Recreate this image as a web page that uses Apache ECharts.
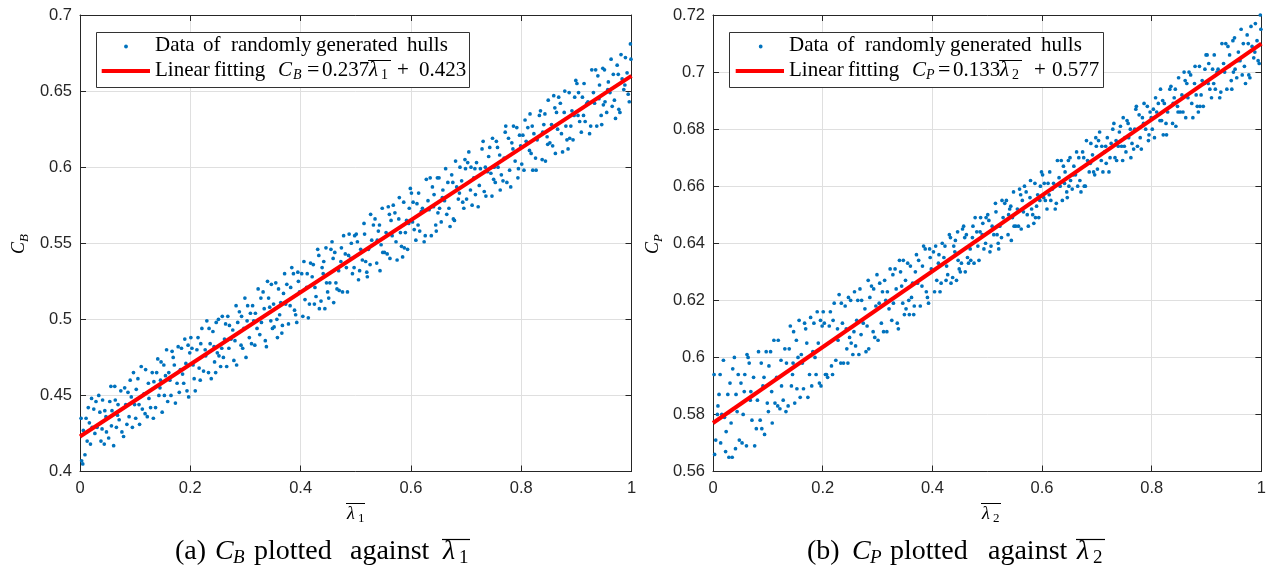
<!DOCTYPE html>
<html><head><meta charset="utf-8">
<script src="https://cdn.jsdelivr.net/npm/echarts@6/dist/echarts.min.js"></script>
<style>html,body{margin:0;padding:0;background:#fff}#c{width:1269px;height:567px}</style>
</head><body><div id="c"></div>
<script>
// ---------------- data ----------------
const xTickRange = [0, 1, 0.2];
const yTickRangeA = [0.4, 0.7, 0.05];
const yTickRangeB = [0.56, 0.72, 0.02];
const seriesNameData = 'Data of randomly generated hulls';

// panel (a): lambda1 vs C_B
const pointsA = [
[0.003,0.407],[0.011,0.435],[0.027,0.425],[0.041,0.447],[0.006,0.427],[0.019,0.418],[0.034,0.450],[0.048,0.426],[0.015,0.442],[0.022,0.429],[0.009,0.411],[0.038,0.420],[0.045,0.440],[0.031,0.429],[0.002,0.435],[0.025,0.441],[0.013,0.420],[0.044,0.418],[0.017,0.432],[0.036,0.439],[0.029,0.446],[0.047,0.436],[0.005,0.405],[0.040,0.428],[0.021,0.448],
[0.052,0.422],[0.087,0.452],[0.063,0.456],[0.071,0.434],[0.095,0.429],[0.058,0.440],[0.079,0.423],[0.066,0.429],[0.091,0.460],[0.054,0.446],[0.083,0.444],[0.099,0.444],[0.061,0.417],[0.074,0.453],[0.069,0.444],[0.085,0.431],[0.057,0.430],[0.093,0.449],[0.076,0.426],[0.064,0.447],[0.089,0.436],[0.097,0.465],[0.056,0.456],[0.081,0.455],[0.068,0.437],
[0.102,0.454],[0.137,0.442],[0.119,0.467],[0.146,0.460],[0.108,0.431],[0.125,0.448],[0.131,0.465],[0.113,0.441],[0.149,0.439],[0.105,0.461],[0.141,0.474],[0.122,0.436],[0.134,0.459],[0.116,0.451],[0.128,0.442],[0.143,0.450],[0.111,0.469],[0.139,0.465],[0.107,0.444],[0.147,0.472],[0.118,0.438],[0.133,0.435],[0.124,0.458],[0.145,0.455],[0.101,0.435],
[0.153,0.450],[0.178,0.482],[0.161,0.465],[0.194,0.453],[0.169,0.475],[0.186,0.464],[0.157,0.480],[0.173,0.445],[0.199,0.478],[0.165,0.450],[0.182,0.467],[0.152,0.470],[0.190,0.487],[0.176,0.458],[0.197,0.449],[0.159,0.446],[0.171,0.470],[0.184,0.481],[0.163,0.460],[0.188,0.458],[0.155,0.463],[0.192,0.471],[0.167,0.479],[0.180,0.452],[0.196,0.483],
[0.203,0.481],[0.238,0.461],[0.216,0.468],[0.247,0.498],[0.209,0.453],[0.227,0.480],[0.221,0.494],[0.244,0.472],[0.212,0.480],[0.233,0.465],[0.205,0.470],[0.241,0.492],[0.218,0.460],[0.230,0.499],[0.249,0.478],[0.214,0.488],[0.236,0.484],[0.224,0.466],[0.201,0.488],[0.246,0.465],[0.228,0.476],[0.219,0.484],[0.243,0.482],[0.207,0.461],[0.234,0.494],
[0.252,0.476],[0.289,0.505],[0.266,0.469],[0.277,0.493],[0.258,0.502],[0.295,0.481],[0.271,0.496],[0.284,0.470],[0.262,0.487],[0.299,0.514],[0.255,0.469],[0.281,0.486],[0.268,0.502],[0.292,0.483],[0.274,0.487],[0.286,0.498],[0.260,0.475],[0.297,0.494],[0.279,0.473],[0.264,0.497],[0.251,0.500],[0.283,0.509],[0.270,0.481],[0.293,0.502],[0.257,0.481],
[0.304,0.509],[0.336,0.486],[0.318,0.504],[0.347,0.523],[0.311,0.484],[0.329,0.498],[0.342,0.514],[0.323,0.520],[0.307,0.488],[0.349,0.494],[0.315,0.499],[0.332,0.518],[0.301,0.475],[0.326,0.490],[0.344,0.508],[0.338,0.482],[0.313,0.509],[0.321,0.494],[0.346,0.499],[0.309,0.504],[0.334,0.507],[0.317,0.483],[0.340,0.525],[0.303,0.499],[0.328,0.514],
[0.352,0.495],[0.387,0.530],[0.364,0.511],[0.393,0.498],[0.371,0.530],[0.358,0.488],[0.381,0.509],[0.396,0.525],[0.367,0.496],[0.375,0.523],[0.355,0.524],[0.389,0.506],[0.362,0.503],[0.398,0.518],[0.378,0.497],[0.384,0.534],[0.369,0.517],[0.351,0.510],[0.391,0.503],[0.373,0.510],[0.360,0.520],[0.395,0.531],[0.366,0.491],[0.382,0.521],[0.357,0.500],
[0.402,0.530],[0.437,0.512],[0.414,0.501],[0.446,0.547],[0.421,0.528],[0.408,0.513],[0.431,0.546],[0.449,0.518],[0.418,0.537],[0.426,0.521],[0.404,0.502],[0.441,0.530],[0.434,0.507],[0.412,0.530],[0.447,0.524],[0.423,0.536],[0.416,0.510],[0.439,0.534],[0.428,0.515],[0.406,0.538],[0.444,0.507],[0.411,0.521],[0.433,0.542],[0.425,0.510],[0.442,0.538],
[0.453,0.524],[0.488,0.556],[0.462,0.544],[0.476,0.518],[0.457,0.551],[0.494,0.530],[0.469,0.532],[0.481,0.543],[0.451,0.514],[0.498,0.555],[0.466,0.520],[0.485,0.518],[0.473,0.538],[0.459,0.540],[0.491,0.540],[0.478,0.555],[0.464,0.524],[0.497,0.534],[0.455,0.546],[0.483,0.534],[0.470,0.519],[0.492,0.550],[0.460,0.511],[0.487,0.542],[0.474,0.547],
[0.503,0.551],[0.538,0.537],[0.515,0.563],[0.546,0.549],[0.521,0.528],[0.509,0.546],[0.532,0.562],[0.548,0.573],[0.518,0.538],[0.526,0.536],[0.505,0.526],[0.541,0.558],[0.529,0.552],[0.512,0.539],[0.544,0.532],[0.535,0.566],[0.501,0.556],[0.523,0.546],[0.549,0.544],[0.516,0.556],[0.507,0.532],[0.539,0.552],[0.527,0.569],[0.520,0.531],[0.543,0.562],
[0.552,0.544],[0.587,0.577],[0.566,0.555],[0.594,0.546],[0.559,0.574],[0.578,0.566],[0.583,0.548],[0.597,0.573],[0.562,0.540],[0.571,0.570],[0.555,0.557],[0.590,0.557],[0.575,0.539],[0.599,0.586],[0.568,0.575],[0.581,0.557],[0.557,0.543],[0.592,0.565],[0.564,0.565],[0.585,0.541],[0.573,0.551],[0.596,0.563],[0.561,0.569],[0.579,0.580],[0.588,0.547],
[0.604,0.577],[0.637,0.555],[0.613,0.562],[0.648,0.593],[0.621,0.573],[0.609,0.552],[0.642,0.582],[0.628,0.592],[0.616,0.558],[0.633,0.572],[0.601,0.583],[0.645,0.562],[0.624,0.551],[0.611,0.576],[0.639,0.587],[0.619,0.571],[0.606,0.559],[0.631,0.578],[0.649,0.570],[0.626,0.555],[0.614,0.583],[0.641,0.574],[0.635,0.593],[0.603,0.564],[0.646,0.558],
[0.652,0.573],[0.689,0.600],[0.663,0.599],[0.677,0.566],[0.658,0.585],[0.694,0.577],[0.671,0.561],[0.683,0.587],[0.655,0.564],[0.698,0.605],[0.667,0.590],[0.686,0.579],[0.674,0.595],[0.661,0.578],[0.692,0.591],[0.679,0.565],[0.651,0.593],[0.696,0.573],[0.669,0.573],[0.681,0.604],[0.657,0.580],[0.688,0.583],[0.665,0.569],[0.676,0.590],[0.699,0.599],
[0.703,0.603],[0.736,0.581],[0.714,0.593],[0.748,0.619],[0.722,0.574],[0.708,0.585],[0.741,0.607],[0.729,0.612],[0.717,0.582],[0.745,0.596],[0.705,0.610],[0.733,0.584],[0.719,0.603],[0.750,0.592],[0.726,0.599],[0.711,0.575],[0.739,0.597],[0.701,0.579],[0.743,0.613],[0.724,0.588],[0.716,0.599],[0.731,0.617],[0.747,0.581],[0.709,0.600],[0.735,0.600],
[0.753,0.590],[0.786,0.627],[0.761,0.608],[0.794,0.593],[0.772,0.627],[0.758,0.600],[0.781,0.587],[0.797,0.621],[0.767,0.591],[0.777,0.619],[0.755,0.617],[0.789,0.604],[0.764,0.595],[0.799,0.614],[0.774,0.590],[0.783,0.616],[0.751,0.600],[0.792,0.626],[0.769,0.606],[0.779,0.598],[0.757,0.613],[0.795,0.599],[0.762,0.585],[0.785,0.612],[0.771,0.623],
[0.803,0.621],[0.838,0.605],[0.816,0.635],[0.847,0.620],[0.821,0.598],[0.809,0.617],[0.833,0.634],[0.849,0.644],[0.818,0.609],[0.826,0.606],[0.805,0.598],[0.841,0.628],[0.829,0.618],[0.812,0.626],[0.844,0.604],[0.835,0.637],[0.801,0.602],[0.823,0.622],[0.848,0.615],[0.815,0.611],[0.807,0.631],[0.839,0.623],[0.827,0.598],[0.820,0.627],[0.843,0.635],
[0.852,0.616],[0.887,0.649],[0.866,0.625],[0.894,0.618],[0.859,0.647],[0.878,0.636],[0.883,0.618],[0.897,0.646],[0.862,0.609],[0.871,0.642],[0.855,0.628],[0.890,0.627],[0.875,0.610],[0.899,0.657],[0.868,0.646],[0.881,0.627],[0.857,0.614],[0.892,0.637],[0.864,0.636],[0.885,0.612],[0.873,0.622],[0.896,0.634],[0.861,0.639],[0.879,0.650],[0.888,0.619],
[0.904,0.649],[0.937,0.627],[0.913,0.634],[0.948,0.665],[0.921,0.643],[0.909,0.623],[0.942,0.654],[0.928,0.664],[0.916,0.630],[0.933,0.642],[0.901,0.655],[0.945,0.634],[0.924,0.622],[0.911,0.646],[0.939,0.660],[0.919,0.642],[0.906,0.630],[0.931,0.649],[0.949,0.641],[0.926,0.627],[0.914,0.655],[0.941,0.645],[0.935,0.664],[0.903,0.634],[0.946,0.628],
[0.952,0.643],[0.989,0.672],[0.963,0.671],[0.977,0.638],[0.958,0.656],[0.994,0.648],[0.971,0.632],[0.983,0.658],[0.955,0.636],[0.998,0.681],[0.967,0.661],[0.986,0.651],[0.974,0.667],[0.961,0.649],[0.992,0.662],[0.979,0.636],[0.951,0.664],[0.996,0.643],[0.969,0.644],[0.981,0.674],[0.957,0.651],[0.988,0.654],[0.965,0.640],[0.976,0.661],[0.999,0.671]
];
const fitA = [[0, 0.423], [1, 0.660]];

// panel (b): lambda2 vs C_P
const pointsB = [
[0.002,0.594],[0.014,0.570],[0.027,0.587],[0.041,0.568],[0.008,0.580],[0.019,0.599],[0.033,0.577],[0.046,0.594],[0.005,0.571],[0.023,0.567],[0.036,0.596],[0.011,0.587],[0.029,0.565],[0.044,0.581],[0.016,0.580],[0.039,0.600],[0.024,0.574],[0.048,0.571],[0.003,0.566],[0.031,0.591],[0.013,0.594],[0.042,0.587],[0.021,0.579],[0.035,0.565],[0.009,0.583],
[0.053,0.570],[0.088,0.598],[0.062,0.601],[0.071,0.578],[0.094,0.573],[0.057,0.588],[0.079,0.575],[0.066,0.598],[0.091,0.590],[0.055,0.580],[0.083,0.602],[0.099,0.584],[0.061,0.569],[0.074,0.593],[0.068,0.585],[0.086,0.578],[0.058,0.594],[0.093,0.593],[0.076,0.569],[0.064,0.600],[0.089,0.575],[0.097,0.602],[0.051,0.591],[0.081,0.585],[0.069,0.588],
[0.102,0.597],[0.137,0.583],[0.119,0.606],[0.146,0.598],[0.108,0.577],[0.125,0.590],[0.131,0.603],[0.113,0.584],[0.149,0.584],[0.105,0.602],[0.141,0.611],[0.122,0.582],[0.134,0.598],[0.116,0.593],[0.128,0.585],[0.143,0.590],[0.111,0.606],[0.139,0.603],[0.107,0.588],[0.147,0.609],[0.118,0.583],[0.133,0.581],[0.124,0.599],[0.145,0.594],[0.101,0.581],
[0.153,0.589],[0.178,0.614],[0.161,0.601],[0.194,0.591],[0.169,0.610],[0.186,0.600],[0.157,0.613],[0.173,0.586],[0.199,0.611],[0.165,0.589],[0.182,0.602],[0.152,0.606],[0.190,0.616],[0.176,0.594],[0.197,0.590],[0.159,0.586],[0.171,0.605],[0.184,0.612],[0.163,0.598],[0.188,0.594],[0.155,0.600],[0.192,0.605],[0.167,0.612],[0.180,0.590],[0.196,0.613],
[0.203,0.612],[0.238,0.598],[0.216,0.597],[0.247,0.621],[0.209,0.593],[0.227,0.610],[0.221,0.619],[0.244,0.603],[0.212,0.611],[0.233,0.598],[0.205,0.594],[0.241,0.618],[0.218,0.594],[0.230,0.622],[0.249,0.607],[0.214,0.616],[0.236,0.612],[0.224,0.599],[0.201,0.616],[0.246,0.598],[0.228,0.606],[0.219,0.613],[0.243,0.610],[0.207,0.594],[0.234,0.619],
[0.252,0.605],[0.289,0.625],[0.266,0.601],[0.277,0.617],[0.258,0.623],[0.295,0.607],[0.271,0.620],[0.284,0.603],[0.262,0.613],[0.299,0.629],[0.255,0.601],[0.281,0.611],[0.268,0.624],[0.292,0.609],[0.274,0.612],[0.286,0.621],[0.260,0.604],[0.297,0.618],[0.279,0.602],[0.264,0.620],[0.251,0.620],[0.283,0.627],[0.270,0.608],[0.293,0.624],[0.257,0.609],
[0.304,0.626],[0.336,0.612],[0.318,0.623],[0.347,0.634],[0.311,0.609],[0.329,0.619],[0.342,0.630],[0.323,0.631],[0.307,0.612],[0.349,0.615],[0.315,0.620],[0.332,0.631],[0.301,0.606],[0.326,0.613],[0.344,0.625],[0.338,0.610],[0.313,0.627],[0.321,0.617],[0.346,0.619],[0.309,0.623],[0.334,0.624],[0.317,0.609],[0.340,0.634],[0.303,0.619],[0.328,0.629],
[0.352,0.617],[0.387,0.638],[0.364,0.626],[0.393,0.619],[0.371,0.636],[0.358,0.615],[0.381,0.625],[0.396,0.635],[0.367,0.618],[0.375,0.634],[0.355,0.633],[0.389,0.623],[0.362,0.621],[0.398,0.631],[0.378,0.618],[0.384,0.639],[0.369,0.630],[0.351,0.627],[0.391,0.621],[0.373,0.626],[0.360,0.632],[0.395,0.638],[0.366,0.615],[0.382,0.632],[0.357,0.620],
[0.402,0.637],[0.437,0.628],[0.414,0.623],[0.446,0.644],[0.421,0.635],[0.408,0.627],[0.431,0.643],[0.449,0.631],[0.418,0.640],[0.426,0.632],[0.404,0.623],[0.441,0.637],[0.434,0.626],[0.412,0.636],[0.447,0.634],[0.423,0.639],[0.416,0.626],[0.439,0.639],[0.428,0.629],[0.406,0.639],[0.444,0.627],[0.411,0.633],[0.433,0.642],[0.425,0.627],[0.442,0.641],
[0.453,0.633],[0.488,0.649],[0.462,0.643],[0.476,0.633],[0.457,0.646],[0.494,0.638],[0.469,0.638],[0.481,0.644],[0.451,0.630],[0.498,0.649],[0.466,0.633],[0.485,0.634],[0.473,0.642],[0.459,0.642],[0.491,0.643],[0.478,0.649],[0.464,0.635],[0.497,0.640],[0.455,0.645],[0.483,0.639],[0.470,0.634],[0.492,0.647],[0.460,0.630],[0.487,0.644],[0.474,0.646],
[0.503,0.648],[0.538,0.643],[0.515,0.654],[0.546,0.649],[0.521,0.638],[0.509,0.646],[0.532,0.654],[0.548,0.658],[0.518,0.643],[0.526,0.642],[0.505,0.637],[0.541,0.652],[0.529,0.649],[0.512,0.643],[0.544,0.641],[0.535,0.655],[0.501,0.650],[0.523,0.646],[0.549,0.646],[0.516,0.651],[0.507,0.639],[0.539,0.650],[0.527,0.655],[0.520,0.640],[0.543,0.653],
[0.552,0.646],[0.587,0.661],[0.566,0.651],[0.594,0.649],[0.559,0.659],[0.578,0.656],[0.583,0.650],[0.597,0.660],[0.562,0.645],[0.571,0.658],[0.555,0.652],[0.590,0.653],[0.575,0.646],[0.599,0.665],[0.568,0.660],[0.581,0.652],[0.557,0.646],[0.592,0.657],[0.564,0.655],[0.585,0.647],[0.573,0.650],[0.596,0.655],[0.561,0.657],[0.579,0.662],[0.588,0.649],
[0.604,0.661],[0.637,0.655],[0.613,0.657],[0.648,0.669],[0.621,0.661],[0.609,0.652],[0.642,0.665],[0.628,0.669],[0.616,0.655],[0.633,0.660],[0.601,0.664],[0.645,0.658],[0.624,0.652],[0.611,0.661],[0.639,0.667],[0.619,0.659],[0.606,0.655],[0.631,0.663],[0.649,0.660],[0.626,0.654],[0.614,0.665],[0.641,0.661],[0.635,0.669],[0.603,0.656],[0.646,0.656],
[0.652,0.662],[0.689,0.675],[0.663,0.672],[0.677,0.660],[0.658,0.667],[0.694,0.665],[0.671,0.658],[0.683,0.669],[0.655,0.659],[0.698,0.677],[0.667,0.670],[0.686,0.665],[0.674,0.672],[0.661,0.664],[0.692,0.671],[0.679,0.660],[0.651,0.670],[0.696,0.664],[0.669,0.662],[0.681,0.676],[0.657,0.664],[0.688,0.668],[0.665,0.660],[0.676,0.670],[0.699,0.674],
[0.703,0.676],[0.736,0.669],[0.714,0.672],[0.748,0.684],[0.722,0.665],[0.708,0.669],[0.741,0.679],[0.729,0.680],[0.717,0.668],[0.745,0.674],[0.705,0.679],[0.733,0.670],[0.719,0.677],[0.750,0.674],[0.726,0.675],[0.711,0.665],[0.739,0.674],[0.701,0.666],[0.743,0.681],[0.724,0.670],[0.716,0.674],[0.731,0.682],[0.747,0.669],[0.709,0.674],[0.735,0.676],
[0.753,0.672],[0.786,0.689],[0.761,0.680],[0.794,0.676],[0.772,0.688],[0.758,0.677],[0.781,0.673],[0.797,0.686],[0.767,0.673],[0.777,0.685],[0.755,0.683],[0.789,0.680],[0.764,0.675],[0.799,0.684],[0.774,0.674],[0.783,0.684],[0.751,0.677],[0.792,0.688],[0.769,0.680],[0.779,0.677],[0.757,0.682],[0.795,0.678],[0.762,0.670],[0.785,0.682],[0.771,0.687],
[0.803,0.687],[0.838,0.682],[0.816,0.694],[0.847,0.688],[0.821,0.678],[0.809,0.686],[0.833,0.694],[0.849,0.698],[0.818,0.683],[0.826,0.682],[0.805,0.677],[0.841,0.691],[0.829,0.686],[0.812,0.689],[0.844,0.681],[0.835,0.695],[0.801,0.680],[0.823,0.689],[0.848,0.686],[0.815,0.683],[0.807,0.691],[0.839,0.689],[0.827,0.678],[0.820,0.690],[0.843,0.694],
[0.852,0.686],[0.887,0.702],[0.866,0.691],[0.894,0.688],[0.859,0.700],[0.878,0.696],[0.883,0.688],[0.897,0.701],[0.862,0.684],[0.871,0.699],[0.855,0.692],[0.890,0.692],[0.875,0.684],[0.899,0.706],[0.868,0.700],[0.881,0.692],[0.857,0.686],[0.892,0.697],[0.864,0.696],[0.885,0.686],[0.873,0.689],[0.896,0.696],[0.861,0.697],[0.879,0.702],[0.888,0.688],
[0.904,0.703],[0.937,0.694],[0.913,0.696],[0.948,0.711],[0.921,0.701],[0.909,0.691],[0.942,0.706],[0.928,0.710],[0.916,0.694],[0.933,0.700],[0.901,0.706],[0.945,0.697],[0.924,0.691],[0.911,0.701],[0.939,0.709],[0.919,0.700],[0.906,0.694],[0.931,0.703],[0.949,0.700],[0.926,0.693],[0.914,0.706],[0.941,0.702],[0.935,0.710],[0.903,0.696],[0.946,0.694],
[0.952,0.701],[0.989,0.717],[0.963,0.715],[0.977,0.699],[0.958,0.707],[0.994,0.704],[0.971,0.696],[0.983,0.709],[0.955,0.698],[0.998,0.720],[0.967,0.710],[0.986,0.705],[0.974,0.713],[0.961,0.704],[0.992,0.711],[0.979,0.698],[0.951,0.712],[0.996,0.703],[0.969,0.702],[0.981,0.716],[0.957,0.704],[0.988,0.707],[0.965,0.699],[0.976,0.710],[0.999,0.715]
];
const fitB = [[0, 0.577], [1, 0.710]];

// ---------------- styling ----------------
const SANS = '"Liberation Sans", Arial, Helvetica, sans-serif';
const SERIF = '"Liberation Serif", "Times New Roman", serif';
const AX = '#262626', GRIDC = '#dfdfdf', BLUE = '#0072BD', RED = '#ff0000';

const grids = [
  {left: 80, top: 15, width: 551.5, height: 456.5},
  {left: 713, top: 15, width: 552, height: 456.5}
];

function xAxes(gi) {
  const base = {type: 'value', gridIndex: gi, min: xTickRange[0], max: xTickRange[1], interval: xTickRange[2],
    axisLine: {show: true, onZero: false, lineStyle: {color: AX, width: 1}},
    axisTick: {show: true, inside: true, length: 6, lineStyle: {color: AX}}};
  return [
    Object.assign({}, base, {position: 'bottom',
      axisLabel: {show: true, margin: 8, color: AX, fontFamily: SANS, fontSize: 16.5, showMinLabel: true, showMaxLabel: true},
      splitLine: {show: true, lineStyle: {color: GRIDC, width: 1}}}),
    Object.assign({}, base, {position: 'top', axisLabel: {show: false}, splitLine: {show: false}})
  ];
}
function yAxes(gi, r) {
  const base = {type: 'value', gridIndex: gi, min: r[0], max: r[1], interval: r[2],
    axisLine: {show: true, onZero: false, lineStyle: {color: AX, width: 1}},
    axisTick: {show: true, inside: true, length: 6, lineStyle: {color: AX}}};
  return [
    Object.assign({}, base, {position: 'left',
      axisLabel: {show: true, margin: 8, color: AX, fontFamily: SANS, fontSize: 16.5, showMinLabel: true, showMaxLabel: true},
      splitLine: {show: true, lineStyle: {color: GRIDC, width: 1}}}),
    Object.assign({}, base, {position: 'right', axisLabel: {show: false}, splitLine: {show: false}})
  ];
}

function txt(x, y, s, size, italic, extra) {
  return Object.assign({type: 'text', x: x, y: y, z: 100, silent: true,
    style: {text: s, fontFamily: SERIF, fontSize: size, fontStyle: italic ? 'italic' : 'normal',
      fill: '#000', align: 'left', verticalAlign: 'middle'}}, extra || {});
}
function hline(x1, x2, y, w, color) {
  return {type: 'line', z: 100, silent: true, shape: {x1: x1, y1: y, x2: x2, y2: y},
    style: {stroke: color || '#000', lineWidth: w || 1}};
}

const g = [];
// ---- legend (a)
g.push({type: 'rect', z: 99, silent: true, shape: {x: 96.5, y: 32.5, width: 373, height: 55},
  style: {fill: '#fff', stroke: '#333', lineWidth: 1}});
g.push({type: 'circle', z: 100, silent: true, shape: {cx: 126, cy: 46.5, r: 1.9}, style: {fill: BLUE}});
[['Data',155],['of',203],['randomly',231],['generated',316],['hulls',407]].forEach(w => g.push(txt(w[1], 45, w[0], 21)));
g.push(hline(101.7, 150, 71, 4, RED));
g.push(txt(155, 70, 'Linear', 21));
g.push(txt(214, 70, 'fitting', 21));
g.push(txt(278, 70, 'C', 21, true));
g.push(txt(293, 75, 'B', 14, true));
g.push(txt(307, 70, '=', 22));
g.push(txt(322, 70, '0.237', 21));
g.push(txt(369, 70, 'λ', 21, true));
g.push(txt(381, 75, '1', 14));
g.push(hline(368, 391, 60.5, 1));
g.push(txt(397, 70, '+', 21));
g.push(txt(419, 70, '0.423', 21));

// ---- legend (b)
g.push({type: 'rect', z: 99, silent: true, shape: {x: 729.5, y: 32.5, width: 374, height: 55},
  style: {fill: '#fff', stroke: '#333', lineWidth: 1}});
g.push({type: 'circle', z: 100, silent: true, shape: {cx: 760.7, cy: 46.5, r: 1.9}, style: {fill: BLUE}});
[['Data',789],['of',837],['randomly',865],['generated',950],['hulls',1041]].forEach(w => g.push(txt(w[1], 45, w[0], 21)));
g.push(hline(735.7, 784, 71, 4, RED));
g.push(txt(789, 70, 'Linear', 21));
g.push(txt(848, 70, 'fitting', 21));
g.push(txt(912, 70, 'C', 21, true));
g.push(txt(926, 75, 'P', 14, true));
g.push(txt(938, 70, '=', 22));
g.push(txt(953, 70, '0.133', 21));
g.push(txt(1000, 70, 'λ', 21, true));
g.push(txt(1012, 75, '2', 14));
g.push(hline(999, 1022, 60.5, 1));
g.push(txt(1034, 70, '+', 21));
g.push(txt(1052, 70, '0.577', 21));

// ---- y axis names (rotated)
const rot = {rotation: Math.PI / 2};
g.push(txt(19, 254, 'C', 18, true, rot));
g.push(txt(25, 242, 'B', 13, true, rot));
g.push(txt(653, 254, 'C', 18, true, rot));
g.push(txt(659, 242, 'P', 13, true, rot));

// ---- x axis names
g.push(txt(347, 514, 'λ', 18, true));
g.push(txt(358, 519, '1', 13));
g.push(hline(346, 365, 503.5, 1));
g.push(txt(982, 514, 'λ', 18, true));
g.push(txt(993, 519, '2', 13));
g.push(hline(981, 1001, 503.5, 1));

// ---- captions
g.push(txt(175, 552, '(a)', 28));
g.push(txt(215, 552, 'C', 28, true));
g.push(txt(233, 558, 'B', 19, true));
g.push(txt(254, 552, 'plotted', 28));
g.push(txt(350, 552, 'against', 28));
g.push(txt(443, 552, 'λ', 28, true));
g.push(txt(459, 558, '1', 19));
g.push(hline(442, 470, 539.5, 1.2));

g.push(txt(807, 552, '(b)', 28));
g.push(txt(852, 552, 'C', 28, true));
g.push(txt(870, 558, 'P', 19, true));
g.push(txt(890, 552, 'plotted', 28));
g.push(txt(988, 552, 'against', 28));
g.push(txt(1077, 552, 'λ', 28, true));
g.push(txt(1093, 558, '2', 19));
g.push(hline(1076, 1105, 539.5, 1.2));

const chart = echarts.init(document.getElementById('c'), null, {renderer: 'canvas'});
chart.setOption({
  animation: false,
  backgroundColor: '#fff',
  grid: grids,
  xAxis: xAxes(0).concat(xAxes(1)),
  yAxis: yAxes(0, yTickRangeA).concat(yAxes(1, yTickRangeB)),
  series: [
    {name: seriesNameData, type: 'scatter', xAxisIndex: 0, yAxisIndex: 0, data: pointsA,
      symbol: 'circle', symbolSize: 3.7, itemStyle: {color: BLUE, opacity: 1}, z: 2, silent: true},
    {name: 'Linear fitting (a)', type: 'line', xAxisIndex: 0, yAxisIndex: 0, data: fitA,
      symbol: 'none', lineStyle: {color: RED, width: 4}, z: 3, silent: true},
    {name: seriesNameData, type: 'scatter', xAxisIndex: 2, yAxisIndex: 2, data: pointsB,
      symbol: 'circle', symbolSize: 3.7, itemStyle: {color: BLUE, opacity: 1}, z: 2, silent: true},
    {name: 'Linear fitting (b)', type: 'line', xAxisIndex: 2, yAxisIndex: 2, data: fitB,
      symbol: 'none', lineStyle: {color: RED, width: 4}, z: 3, silent: true}
  ],
  graphic: g
});
</script>
</body></html>
